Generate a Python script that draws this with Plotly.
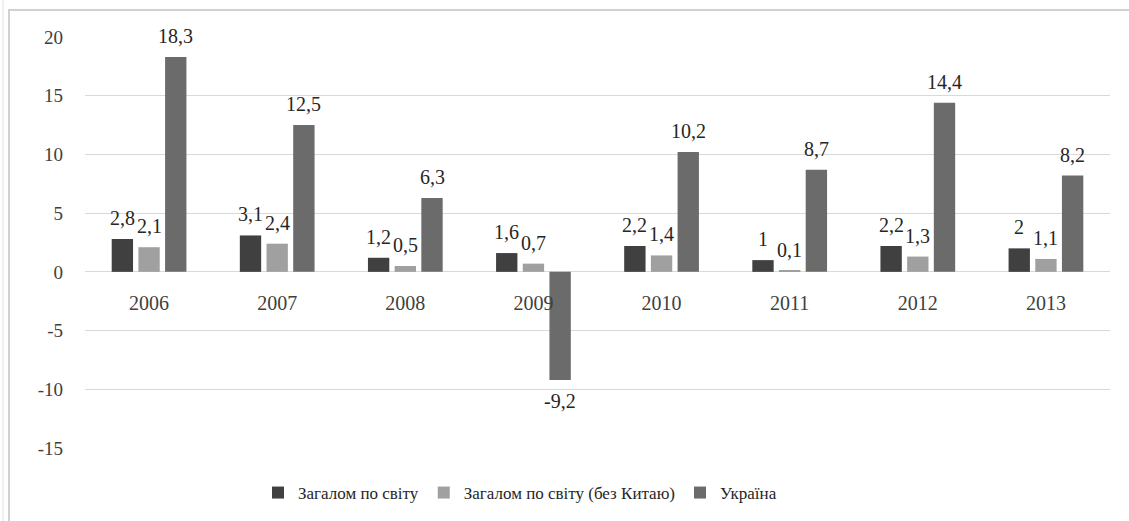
import plotly.graph_objects as go

years = ["2006", "2007", "2008", "2009", "2010", "2011", "2012", "2013"]
world = [2.8, 3.1, 1.2, 1.6, 2.2, 1.0, 2.2, 2.0]
world_ex_china = [2.1, 2.4, 0.5, 0.7, 1.4, 0.1, 1.3, 1.1]
ukraine = [18.3, 12.5, 6.3, -9.2, 10.2, 8.7, 14.4, 8.2]
series_names = ["Загалом по світу", "Загалом по світу (без Китаю)", "Україна"]
y_ticks = [-15, -10, -5, 0, 5, 10, 15, 20]
y_ticktext = ["-15", "-10", "-5", "0", "5", "10", "15", "20"]

colors = ["#404040", "#a0a0a0", "#6b6b6b"]
FONT = "Liberation Serif"

W, H = 1129, 521
ML, MR, MT, MB = 85, 19, 37, 73
BARGAP = 0.375


def fmt(v):
    return f"{v:g}".replace(".", ",")


series = [world, world_ex_china, ukraine]
fig = go.Figure()
for name, vals, col in zip(series_names, series, colors):
    fig.add_trace(go.Bar(
        x=years, y=vals, name=name,
        marker=dict(color=col, line=dict(width=0)),
        cliponaxis=False, hoverinfo="skip",
    ))

# data labels (placed above/below each bar, offset within its group)
plot_w = W - ML - MR
slot = plot_w / len(years) * (1 - BARGAP) / len(series)
for i, vals in enumerate(series):
    for j, v in enumerate(vals):
        fig.add_annotation(
            x=j, y=v, text=fmt(v), showarrow=False,  # category index j
            xshift=(i - (len(series) - 1) / 2) * slot,
            yshift=8 if v >= 0 else -8,
            yanchor="bottom" if v >= 0 else "top",
            font=dict(family=FONT, size=20, color="#262626"),
        )

ymin, ymax = -15, 20
fig.update_layout(
    width=W, height=H,
    margin=dict(l=ML, r=MR, t=MT, b=MB, autoexpand=False),
    paper_bgcolor="white", plot_bgcolor="white",
    barmode="group", bargap=BARGAP, bargroupgap=0.2,
    font=dict(family=FONT, color="#404040"),
    showlegend=True,
    legend=dict(orientation="h", xref="container", yref="container",
                x=258 / W, xanchor="left", y=1 - 493 / H, yanchor="middle",
                font=dict(family=FONT, size=17, color="#262626"),
                itemsizing="constant", traceorder="normal", itemwidth=30),
    xaxis=dict(type="category", anchor="free", automargin=False,
               categoryorder="array", categoryarray=years,
               range=[-0.5, len(years) - 0.5],
               position=(0 - ymin) / (ymax - ymin),
               showline=False, showgrid=False, ticks="",
               tickfont=dict(family=FONT, size=20, color="#404040"),
               ticklabelstandoff=17),
    yaxis=dict(range=[ymin, ymax], tickvals=y_ticks, ticktext=y_ticktext,
               automargin=False,
               showgrid=True, gridcolor="#d9d9d9", gridwidth=1,
               zeroline=True, zerolinecolor="#d9d9d9", zerolinewidth=1,
               showline=False, ticks="",
               tickfont=dict(family=FONT, size=19, color="#404040"),
               ticklabelstandoff=21),
)

plot_h = H - MT - MB
bottom_px = H - MB
# outer chart border
fig.add_shape(type="rect", xref="paper", yref="paper",
              x0=(9 - ML) / plot_w, x1=(1135 - ML) / plot_w,
              y0=(bottom_px - 530) / plot_h, y1=(bottom_px - 10) / plot_h,
              line=dict(color="#d0d0d0", width=2), layer="below")
fig.add_shape(type="line", xref="paper", yref="paper",
              x0=(3 - ML) / plot_w, x1=(3 - ML) / plot_w,
              y0=(bottom_px - 530) / plot_h, y1=(bottom_px - 0) / plot_h,
              line=dict(color="#dedede", width=1), layer="below")

fig.write_html("out.html", config={"displayModeBar": False},
               post_script="document.body.style.margin='0';document.body.style.overflow='hidden';")
